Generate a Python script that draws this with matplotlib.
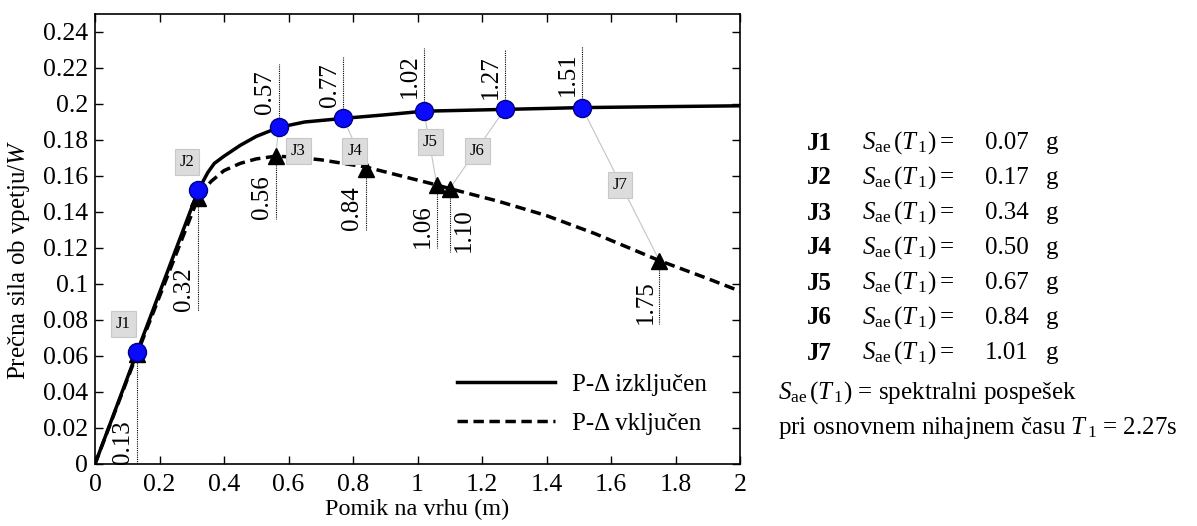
import matplotlib
matplotlib.use("Agg")
import matplotlib.pyplot as plt

plt.rcParams['font.family'] = ['Liberation Serif', 'DejaVu Serif']
plt.rcParams['mathtext.fontset'] = 'custom'
plt.rcParams['mathtext.rm'] = 'Liberation Serif'
plt.rcParams['mathtext.it'] = 'Liberation Serif:italic'
plt.rcParams['mathtext.bf'] = 'Liberation Serif:bold'

# ---- data ----
solid_x = [0, 0.13, 0.32, 0.35, 0.37, 0.40, 0.45, 0.50, 0.57, 0.65, 0.77, 0.90, 1.02, 1.27, 1.51, 1.75, 2.0]
solid_y = [0, 0.062, 0.152, 0.162, 0.167, 0.171, 0.177, 0.182, 0.187, 0.190, 0.192, 0.194, 0.196, 0.197, 0.198, 0.1985, 0.199]

dashed_x = [0, 0.13, 0.32, 0.36, 0.40, 0.45, 0.50, 0.56, 0.62, 0.70, 0.84, 0.95, 1.06, 1.10, 1.25, 1.40, 1.55, 1.75, 1.90, 2.0]
dashed_y = [0, 0.061, 0.148, 0.157, 0.163, 0.167, 0.1695, 0.171, 0.1705, 0.169, 0.165, 0.160, 0.155, 0.153, 0.146, 0.138, 0.128, 0.113, 0.103, 0.096]

circle_x = [0.13, 0.32, 0.57, 0.77, 1.02, 1.27, 1.51]
circle_y = [0.062, 0.152, 0.187, 0.192, 0.196, 0.197, 0.198]

tri_x = [0.13, 0.32, 0.56, 0.84, 1.06, 1.10, 1.75]
tri_y = [0.061, 0.148, 0.171, 0.164, 0.155, 0.153, 0.113]

circle_labels = ["0.13", "0.32", "0.57", "0.77", "1.02", "1.27", "1.51"]
tri_labels = ["0.13", "0.32", "0.56", "0.84", "1.06", "1.10", "1.75"]

# ends of the dotted guide lines
up_tops = [None, None, 0.222, 0.226, 0.231, 0.230, 0.232]
down_bottoms = [0.0, 0.085, 0.136, 0.130, 0.120, 0.118, 0.078]

j_names = ["J1", "J2", "J3", "J4", "J5", "J6", "J7"]
j_box_x = [0.088, 0.285, 0.630, 0.806, 1.040, 1.185, 1.628]
j_box_y = [0.078, 0.168, 0.174, 0.174, 0.179, 0.174, 0.155]
sae_values = ["0.07", "0.17", "0.34", "0.50", "0.67", "0.84", "1.01"]

legend_labels = ["P-Δ izključen", "P-Δ vključen"]
xticks = [0, 0.2, 0.4, 0.6, 0.8, 1.0, 1.2, 1.4, 1.6, 1.8, 2.0]
xtick_labels = ["0", "0.2", "0.4", "0.6", "0.8", "1", "1.2", "1.4", "1.6", "1.8", "2"]
yticks = [0, 0.02, 0.04, 0.06, 0.08, 0.1, 0.12, 0.14, 0.16, 0.18, 0.2, 0.22, 0.24]
ytick_labels = ["0", "0.02", "0.04", "0.06", "0.08", "0.1", "0.12", "0.14", "0.16", "0.18", "0.2", "0.22", "0.24"]

# ---- figure ----
fig = plt.figure(figsize=(11.97, 5.26), dpi=100)
ax = fig.add_axes([95/1197, 62/526, 645/1197, 450/526])

ax.plot(solid_x, solid_y, color='black', lw=2.5, zorder=3, label=legend_labels[0])
ax.plot(dashed_x, dashed_y, color='black', lw=2.5, ls=(0, (3, 1.6)), zorder=3, label=legend_labels[1])

# gray connectors circle -> triangle
for i in range(2, 7):
    ax.plot([circle_x[i], tri_x[i]], [circle_y[i], tri_y[i]], color='#c4c4c4', lw=0.8, zorder=2)

ax.plot(tri_x, tri_y, ls='none', marker='^', ms=11, color='black', zorder=4)
ax.plot(circle_x, circle_y, ls='none', marker='o', ms=13, mfc='#0a0aff', mec='#000080', mew=1, zorder=5)

dot = (0, (1, 1))
lab_fs = 18
# upward guides for the solid-curve points
for i in range(2, 7):
    ax.plot([circle_x[i], circle_x[i]], [circle_y[i], up_tops[i]], color='black', lw=0.8, ls=dot, zorder=2)
    ax.annotate(circle_labels[i], xy=(circle_x[i], up_tops[i]), xytext=(-2, -4), textcoords='offset points',
                rotation=90, ha='right', va='top', fontsize=lab_fs)
# downward guides for the dashed-curve points
for i in range(7):
    ax.plot([tri_x[i], tri_x[i]], [tri_y[i], down_bottoms[i]], color='black', lw=0.8, ls=dot, zorder=2)
    if tri_labels[i] == "1.10":
        ax.annotate(tri_labels[i], xy=(tri_x[i], down_bottoms[i]), xytext=(2, 0), textcoords='offset points',
                    rotation=90, ha='left', va='bottom', fontsize=lab_fs)
    else:
        ax.annotate(tri_labels[i], xy=(tri_x[i], down_bottoms[i]), xytext=(-2, 0), textcoords='offset points',
                    rotation=90, ha='right', va='bottom', fontsize=lab_fs)

for name, bx, by in zip(j_names, j_box_x, j_box_y):
    ax.text(bx, by, name, ha='center', va='center', fontsize=12, zorder=6,
            bbox=dict(boxstyle='square,pad=0.3', facecolor='#dcdcdc', edgecolor='#c8c8c8', lw=0.8))

ax.set_xlim(0, 2)
ax.set_ylim(0, 0.25)
ax.set_xticks(xticks)
ax.set_xticklabels(xtick_labels)
ax.set_yticks(yticks)
ax.set_yticklabels(ytick_labels)
ax.tick_params(direction='in', top=True, right=True, length=6, width=1, labelsize=18.5)
ax.tick_params(axis='y', pad=5)
ax.tick_params(axis='x', pad=7)
for s in ax.spines.values():
    s.set_linewidth(1.2)
ax.set_xlabel("Pomik na vrhu (m)", fontsize=17.5, labelpad=2)
ax.set_ylabel("Prečna sila ob vpetju/$W$", fontsize=18)
ax.yaxis.set_label_coords(-0.098, 0.453)

ax.legend(loc='lower right', bbox_to_anchor=(0.984, 0.015), frameon=False, fontsize=18,
          handlelength=3.9, handletextpad=0.7, labelspacing=0.65)

# ---- right-hand text ----
rfs = 18
row_y0 = 143
row_dy = 35
for k, (name, val) in enumerate(zip(j_names, sae_values)):
    yy = 1 - (row_y0 + k * row_dy) / 526
    fig.text(807/1197, yy, name, fontsize=rfs, fontweight='bold', va='center', ha='left')
    fig.text(862/1197, yy, r"$S_{\mathrm{ae}}\,(T_{\,1}) =$", fontsize=rfs, va='center', ha='left')
    fig.text(985/1197, yy, val, fontsize=rfs, va='center', ha='left')
    fig.text(1046/1197, yy, "g", fontsize=rfs, va='center', ha='left')

fig.text(778/1197, 1 - 393/526, r"$S_{\mathrm{ae}}\,(T_{\,1})$ = spektralni pospešek", fontsize=rfs, va='center', ha='left')
fig.text(778/1197, 1 - 428/526, r"pri osnovnem nihajnem času $T_{\,1}$ = 2.27s", fontsize=rfs, va='center', ha='left')

fig.savefig("out.png", dpi=100)
